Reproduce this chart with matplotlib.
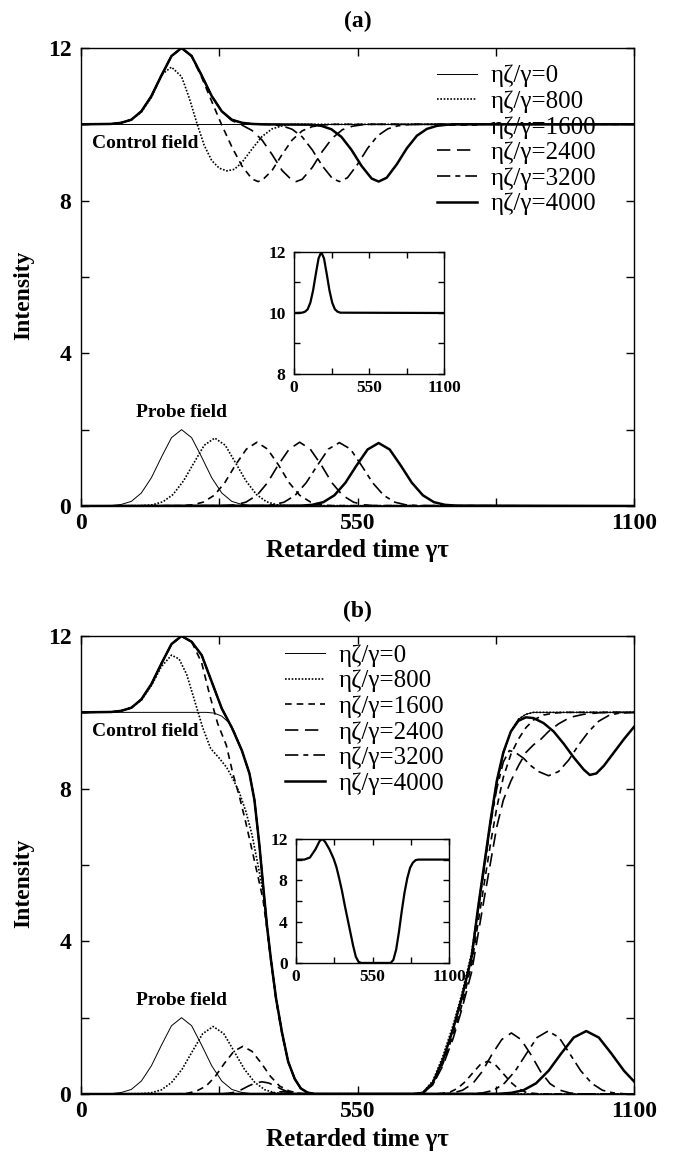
import matplotlib
matplotlib.use("Agg")
import matplotlib.pyplot as plt

plt.rcParams['font.family'] = ['Liberation Serif', 'DejaVu Serif']

labels = ['ηζ/γ=0', 'ηζ/γ=800', 'ηζ/γ=1600', 'ηζ/γ=2400', 'ηζ/γ=3200', 'ηζ/γ=4000']

# ---------------- panel (a): probe pulses ----------------
a_probe0_t = [0, 60, 80, 100, 120, 140, 160, 180, 200, 220, 240, 260, 280, 300, 320, 340, 1100]
a_probe0 = [0, 0.01, 0.04, 0.12, 0.34, 0.74, 1.28, 1.79, 2.0, 1.79, 1.28, 0.74, 0.34, 0.12, 0.04, 0.01, 0]
a_probe1_t = [0, 121, 142, 163, 183, 204, 225, 245, 266, 287, 307, 328, 349, 369, 390, 411, 1100]
a_probe1 = [0, 0.01, 0.03, 0.11, 0.30, 0.66, 1.14, 1.59, 1.78, 1.59, 1.14, 0.66, 0.30, 0.11, 0.03, 0.01, 0]
a_probe2_t = [0, 201, 222, 243, 265, 286, 307, 329, 350, 371, 393, 414, 435, 457, 478, 499, 1100]
a_probe2 = [0, 0.01, 0.03, 0.10, 0.28, 0.61, 1.07, 1.49, 1.67, 1.49, 1.07, 0.61, 0.28, 0.10, 0.03, 0.01, 0]
a_probe3_t = [0, 286, 307, 328, 350, 371, 392, 414, 435, 456, 478, 499, 520, 542, 563, 584, 1100]
a_probe3 = [0, 0.01, 0.03, 0.10, 0.28, 0.61, 1.07, 1.49, 1.67, 1.49, 1.07, 0.61, 0.28, 0.10, 0.03, 0.01, 0]
a_probe4_t = [0, 360, 382, 404, 426, 448, 470, 492, 514, 536, 558, 580, 602, 624, 646, 668, 1100]
a_probe4 = [0, 0.01, 0.03, 0.10, 0.28, 0.61, 1.06, 1.49, 1.66, 1.49, 1.06, 0.61, 0.28, 0.10, 0.03, 0.01, 0]
a_probe5_t = [0, 438, 460, 482, 504, 526, 548, 570, 592, 614, 636, 658, 680, 702, 724, 746, 1100]
a_probe5 = [0, 0.01, 0.03, 0.10, 0.28, 0.61, 1.06, 1.48, 1.65, 1.48, 1.06, 0.61, 0.28, 0.10, 0.03, 0.01, 0]

# ---------------- panel (a): control field ----------------
a_ctrl0_t = [0, 1100]
a_ctrl0 = [10, 10]
a_ctrl1_t = [0, 60, 80, 100, 120, 140, 160, 180, 200, 215, 230, 245, 260, 275, 290, 305, 320, 340, 360, 380, 400, 420, 1100]
a_ctrl1 = [10, 10.01, 10.04, 10.12, 10.32, 10.7, 11.3, 11.5, 11.25, 10.7, 10.05, 9.45, 9.05, 8.85, 8.78, 8.82, 9.0, 9.35,
           9.68, 9.88, 9.96, 10, 10]
a_ctrl2_t = [0, 60, 80, 100, 120, 140, 160, 180, 200, 220, 240, 260, 280, 300, 320, 340, 352, 360, 380, 400, 420, 440,
             460, 480, 500, 1100]
a_ctrl2 = [10, 10.01, 10.04, 10.12, 10.34, 10.74, 11.28, 11.79, 12.0, 11.78, 11.23, 10.6, 9.98, 9.41, 8.91, 8.57, 8.5,
           8.53, 8.79, 9.21, 9.59, 9.83, 9.94, 9.98, 10, 10]
a_ctrl3_t = [0, 60, 80, 100, 120, 140, 160, 180, 200, 220, 240, 260, 280, 300, 320, 340, 360, 380, 400, 420, 428, 440,
             460, 480, 500, 520, 540, 560, 580, 1100]
a_ctrl3 = [10, 10.01, 10.04, 10.12, 10.34, 10.74, 11.28, 11.79, 12.0, 11.79, 11.28, 10.74, 10.34, 10.1, 9.98, 9.84,
           9.59, 9.21, 8.79, 8.53, 8.5, 8.56, 8.87, 9.29, 9.64, 9.86, 9.95, 9.99, 10, 10]
a_ctrl4_t = [0, 60, 80, 100, 120, 140, 160, 180, 200, 220, 240, 260, 280, 300, 320, 340, 380, 400, 420, 440, 460, 480,
             500, 514, 530, 550, 570, 590, 610, 630, 650, 670, 1100]
a_ctrl4 = [10, 10.01, 10.04, 10.12, 10.34, 10.74, 11.28, 11.79, 12.0, 11.79, 11.28, 10.74, 10.34, 10.12, 10.04, 10.01,
           9.99, 9.96, 9.87, 9.67, 9.33, 8.91, 8.58, 8.5, 8.6, 8.95, 9.37, 9.7, 9.88, 9.96, 9.99, 10, 10]
a_ctrl5_t = [0, 60, 80, 100, 120, 140, 160, 180, 200, 220, 240, 260, 280, 300, 320, 340, 360, 458, 478, 498, 518, 538,
             558, 578, 592, 608, 628, 648, 668, 688, 708, 728, 748, 1100]
a_ctrl5 = [10, 10.01, 10.04, 10.12, 10.34, 10.74, 11.28, 11.79, 12.0, 11.79, 11.28, 10.74, 10.34, 10.12, 10.04, 10.01,
           10, 9.99, 9.96, 9.87, 9.67, 9.33, 8.91, 8.58, 8.5, 8.6, 8.95, 9.37, 9.7, 9.88, 9.96, 9.99, 10, 10]

# inset (a)
ins_a_t = [0, 60, 80, 100, 120, 140, 160, 180, 200, 220, 240, 260, 280, 300, 320, 340, 1100]
ins_a = [10, 10.01, 10.04, 10.12, 10.34, 10.74, 11.28, 11.79, 12.0, 11.79, 11.28, 10.74, 10.34, 10.12, 10.04, 10.01, 10]

# ---------------- panel (b): probe pulses ----------------
b_probe0_t = [0, 60, 80, 100, 120, 140, 160, 180, 200, 220, 240, 260, 280, 300, 320, 340, 1100]
b_probe0 = [0, 0.01, 0.04, 0.12, 0.34, 0.74, 1.28, 1.79, 2.0, 1.79, 1.28, 0.74, 0.34, 0.12, 0.04, 0.01, 0]
b_probe1_t = [0, 118, 139, 160, 180, 201, 222, 242, 263, 284, 304, 325, 346, 366, 387, 408, 1100]
b_probe1 = [0, 0.01, 0.03, 0.11, 0.30, 0.65, 1.13, 1.58, 1.77, 1.58, 1.13, 0.65, 0.30, 0.11, 0.03, 0.01, 0]
b_probe2_t = [0, 194, 212, 230, 249, 267, 285, 304, 322, 340, 359, 377, 395, 414, 432, 450,
              704, 719, 734, 749, 764, 779, 794, 809, 824, 839, 854, 869, 884, 899, 914, 1100]
b_probe2 = [0, 0.005, 0.02, 0.08, 0.21, 0.46, 0.80, 1.12, 1.25, 1.12, 0.80, 0.46, 0.21, 0.08, 0.02, 0.005,
            0.003, 0.02, 0.05, 0.15, 0.32, 0.55, 0.77, 0.86, 0.77, 0.55, 0.32, 0.15, 0.05, 0.02, 0.003, 0]
b_probe3_t = [0, 280, 293, 307, 320, 333, 347, 360, 373, 387, 400, 413, 427, 440,
              721, 740, 759, 779, 798, 817, 837, 856, 875, 895, 914, 933, 953, 972, 991, 1100]
b_probe3 = [0, 0.006, 0.02, 0.05, 0.12, 0.21, 0.29, 0.32, 0.29, 0.21, 0.12, 0.05, 0.02, 0.006,
            0.006, 0.03, 0.10, 0.27, 0.59, 1.03, 1.43, 1.6, 1.43, 1.03, 0.59, 0.27, 0.10, 0.03, 0.006, 0]
b_probe4_t = [0, 360, 375, 390, 400, 412, 425, 440,
              777, 799, 821, 842, 864, 886, 907, 929, 951, 972, 994, 1016, 1037, 1059, 1081, 1100]
b_probe4 = [0, 0, 0.02, 0.05, 0.06, 0.05, 0.02, 0,
            0.007, 0.03, 0.10, 0.28, 0.61, 1.06, 1.48, 1.65, 1.48, 1.06, 0.61, 0.28, 0.10, 0.03, 0.007, 0]
b_probe5_t = [0, 830, 855, 880, 905, 930, 955, 980, 1005, 1030, 1055, 1080, 1100]
b_probe5 = [0, 0.007, 0.03, 0.10, 0.28, 0.61, 1.06, 1.48, 1.65, 1.48, 1.06, 0.61, 0.33]

# ---------------- panel (b): control field ----------------
b_ctrl0_t = [0, 250, 265, 280, 295, 305, 320, 335, 345, 355, 362, 370, 378, 388, 400, 412, 425, 437, 450, 465,
             660, 680, 700, 720, 740, 757, 777, 790, 803, 815, 827, 840, 855, 870, 885, 900, 1100]
b_ctrl0 = [10, 10, 9.98, 9.9, 9.72, 9.5, 9.0, 8.4, 7.7, 6.5, 5.5, 4.4, 3.5, 2.5, 1.6, 0.85, 0.4, 0.15, 0.04, 0,
           0, 0.03, 0.3, 0.9, 1.7, 2.5, 3.6, 4.8, 6.0, 7.1, 8.1, 8.9, 9.5, 9.82, 9.95, 10, 10]
b_ctrl1_t = [0, 60, 80, 100, 120, 140, 160, 180, 195, 210, 225, 242, 258, 275, 290, 302, 315, 328, 340, 352, 362, 370,
             378, 388, 400, 412, 425, 437, 450, 465,
             660, 680, 700, 720, 740, 757, 777, 790, 803, 815, 827, 840, 855, 870, 885, 900, 1100]
b_ctrl1 = [10, 10.01, 10.04, 10.12, 10.32, 10.7, 11.2, 11.5, 11.4, 11.0, 10.35, 9.6, 9.05, 8.8, 8.55, 8.26, 7.9, 7.4,
           6.8, 6.0, 5.3, 4.4, 3.5, 2.5, 1.6, 0.85, 0.4, 0.15, 0.04, 0,
           0, 0.04, 0.35, 1.0, 1.8, 2.6, 3.7, 4.9, 6.1, 7.2, 8.2, 8.95, 9.5, 9.82, 9.95, 10, 10]
b_ctrl2_t = [0, 60, 80, 100, 120, 140, 160, 180, 200, 220, 240, 256, 272, 289, 302, 315, 328, 340, 352, 362, 370, 378,
             388, 400, 412, 425, 437, 450, 465,
             660, 680, 700, 720, 740, 757, 777, 790, 803, 815, 827, 840, 855, 870, 885, 900, 920, 940, 960, 1100]
b_ctrl2 = [10, 10.01, 10.04, 10.12, 10.34, 10.74, 11.28, 11.79, 12.0, 11.85, 11.3, 10.45, 9.7, 9.14, 8.4, 7.8, 7.1,
           6.4, 5.7, 5.1, 4.3, 3.45, 2.45, 1.55, 0.85, 0.4, 0.15, 0.04, 0,
           0, 0.02, 0.25, 0.8, 1.55, 2.3, 3.4, 4.5, 5.6, 6.6, 7.5, 8.3, 8.9, 9.3, 9.6, 9.8, 9.93, 9.98, 10, 10]
# common leading edge of the three largest delays
b_lead_t = [0, 60, 80, 100, 120, 140, 160, 180, 200, 220, 240, 260, 280, 300, 320, 335, 345, 355, 362, 370, 378, 388,
            400, 412, 425, 437, 450, 465]
b_lead = [10, 10.01, 10.04, 10.12, 10.34, 10.74, 11.28, 11.79, 12.0, 11.85, 11.5, 10.8, 10.1, 9.6, 9.0, 8.4, 7.7, 6.5,
          5.5, 4.4, 3.5, 2.5, 1.6, 0.85, 0.4, 0.15, 0.04, 0]
b_ctrl3_tail_t = [660, 680, 700, 720, 740, 757, 777, 790, 803, 815, 827, 840, 855, 870, 885, 900, 915, 930, 950, 973,
                  1000, 1030, 1060, 1100]
b_ctrl3_tail = [0, 0.02, 0.25, 0.75, 1.45, 2.2, 3.2, 4.2, 5.2, 6.1, 7.0, 7.7, 8.2, 8.6, 8.95, 9.15, 9.3, 9.5, 9.7,
                9.87, 9.95, 9.99, 10, 10]
b_ctrl4_tail_t = [660, 680, 700, 720, 740, 757, 777, 790, 803, 815, 827, 840, 852, 864, 880, 895, 910, 930, 950, 970,
                  990, 1010, 1030, 1050, 1070, 1100]
b_ctrl4_tail = [0, 0.03, 0.3, 0.9, 1.7, 2.5, 3.6, 4.8, 6.0, 7.1, 8.0, 8.7, 9.0, 8.95, 8.8, 8.6, 8.45, 8.34, 8.45,
                8.75, 9.15, 9.5, 9.77, 9.92, 9.98, 10]
b_ctrl5_tail_t = [660, 680, 700, 720, 740, 757, 777, 790, 803, 815, 827, 840, 855, 870, 885, 900, 920, 940, 960, 980,
                  1000, 1012, 1025, 1040, 1060, 1080, 1100]
b_ctrl5_tail = [0, 0.03, 0.3, 0.9, 1.7, 2.5, 3.6, 4.9, 6.1, 7.2, 8.2, 8.95, 9.5, 9.78, 9.87, 9.85, 9.72, 9.5, 9.18,
                8.82, 8.5, 8.36, 8.4, 8.6, 8.95, 9.3, 9.62]

# inset (b)
ins_b_t = [0, 60, 100, 140, 170, 190, 210, 240, 270, 290, 310, 330, 350, 370, 390, 410, 430, 450, 470,
           680, 700, 720, 740, 760, 780, 800, 820, 840, 860, 880, 1100]
ins_b = [10, 10, 10.2, 11.0, 11.8, 12.0, 11.7, 11.0, 10.1, 9.3, 8.2, 7.0, 5.6, 4.3, 3.0, 1.7, 0.6, 0.1, 0,
         0, 0.3, 1.3, 3.0, 5.0, 6.8, 8.2, 9.2, 9.7, 9.95, 10, 10]

# line styles, one per ηζ/γ value
styles = [
    dict(ls='-', lw=0.7),
    dict(ls=(0, (1, 1)), lw=1.2),
    dict(ls=(0, (4, 3)), lw=1.2),
    dict(ls=(0, (8, 4)), lw=1.2),
    dict(ls=(0, (8, 3, 3, 3)), lw=1.2),
    dict(ls='-', lw=1.8),
]


def setup_axes(ax, yticks, yminor, ylim, fs, pad):
    ax.set_xlim(0, 1100)
    ax.set_ylim(*ylim)
    ax.set_xticks([0, 550, 1100])
    ax.set_xticks([275, 825], minor=True)
    ax.set_yticks(yticks)
    ax.set_yticks(yminor, minor=True)
    ax.set_xticklabels(['0', '550', '1100'], fontsize=fs, fontweight='bold')
    ax.set_yticklabels([str(v) for v in yticks], fontsize=fs, fontweight='bold')
    ax.tick_params(which='both', direction='in', top=True, right=True, width=1, length=6)
    ax.tick_params(axis='y', pad=pad)
    ax.tick_params(axis='x', pad=pad - 2)
    for s in ax.spines.values():
        s.set_linewidth(1)


fig = plt.figure(figsize=(6.74, 11.56), dpi=100)
ax_a = fig.add_axes([0.1202, 0.5623, 0.8205, 0.3962])
ax_b = fig.add_axes([0.1202, 0.0536, 0.8205, 0.3962])

a_probes = [(a_probe0_t, a_probe0), (a_probe1_t, a_probe1), (a_probe2_t, a_probe2),
            (a_probe3_t, a_probe3), (a_probe4_t, a_probe4), (a_probe5_t, a_probe5)]
a_ctrls = [(a_ctrl0_t, a_ctrl0), (a_ctrl1_t, a_ctrl1), (a_ctrl2_t, a_ctrl2),
           (a_ctrl3_t, a_ctrl3), (a_ctrl4_t, a_ctrl4), (a_ctrl5_t, a_ctrl5)]
b_probes = [(b_probe0_t, b_probe0), (b_probe1_t, b_probe1), (b_probe2_t, b_probe2),
            (b_probe3_t, b_probe3), (b_probe4_t, b_probe4), (b_probe5_t, b_probe5)]
b_ctrls = [(b_ctrl0_t, b_ctrl0), (b_ctrl1_t, b_ctrl1), (b_ctrl2_t, b_ctrl2),
           (b_lead_t + b_ctrl3_tail_t, b_lead + b_ctrl3_tail),
           (b_lead_t + b_ctrl4_tail_t, b_lead + b_ctrl4_tail),
           (b_lead_t + b_ctrl5_tail_t, b_lead + b_ctrl5_tail)]

for ax, probes, ctrls in [(ax_a, a_probes, a_ctrls), (ax_b, b_probes, b_ctrls)]:
    for (pt, py), (ct, cy), st, lab in zip(probes, ctrls, styles, labels):
        ax.plot(pt, py, color='black', label=lab, **st)
        ax.plot(ct, cy, color='black', **st)
    setup_axes(ax, [0, 4, 8, 12], [2, 6, 10], (0, 12), 17, 7)
    ax.set_xlabel('Retarded time γτ', fontsize=18, fontweight='bold', labelpad=4)
    ax.set_ylabel('Intensity', fontsize=17, fontweight='bold', labelpad=2)
    ax.yaxis.set_label_coords(-0.085, 0.46)
    ax.text(127, 9.5, 'Control field', fontsize=14, fontweight='bold', ha='center', va='center')
    ax.text(199, 2.45, 'Probe field', fontsize=14, fontweight='bold', ha='center', va='center')

ax_a.legend(loc='upper left', bbox_to_anchor=(0.644, 0.963), frameon=False, fontsize=18,
            handlelength=1.6, handletextpad=0.55, labelspacing=0.12, borderpad=0, borderaxespad=0)
ax_b.legend(loc='upper left', bbox_to_anchor=(0.369, 0.982), frameon=False, fontsize=18,
            handlelength=1.6, handletextpad=0.55, labelspacing=0.12, borderpad=0, borderaxespad=0)

ax_a.set_title('(a)', fontsize=17, fontweight='bold', pad=15)
ax_b.set_title('(b)', fontsize=17, fontweight='bold', pad=14)

# insets
in_a = fig.add_axes([0.4362, 0.6765, 0.2226, 0.1055])
in_a.plot(ins_a_t, ins_a, color='black', lw=1.6)
setup_axes(in_a, [8, 10, 12], [9, 11], (8, 12), 12.5, 6)
in_a.tick_params(which='both', length=4)

in_b = fig.add_axes([0.4392, 0.1670, 0.2270, 0.1073])
in_b.plot(ins_b_t, ins_b, color='black', lw=1.6)
setup_axes(in_b, [0, 4, 8, 12], [2, 6, 10], (0, 12), 12.5, 6)
in_b.tick_params(which='both', length=4)

fig.savefig('out.png', dpi=100)
